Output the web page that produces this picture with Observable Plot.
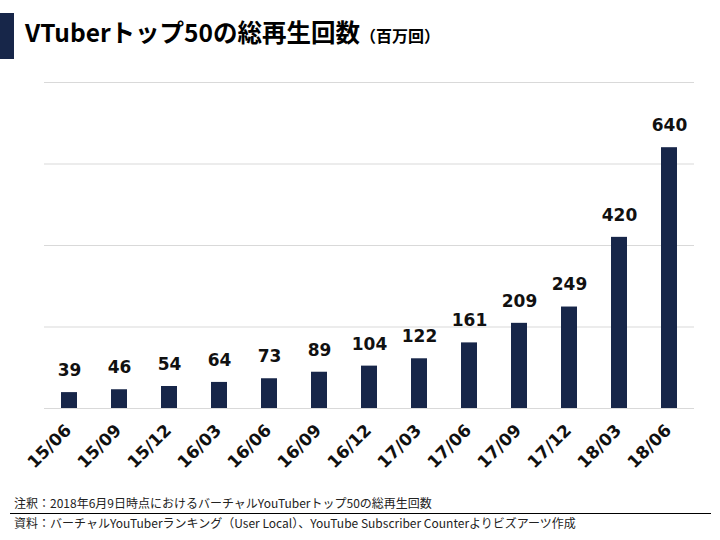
<!DOCTYPE html>
<html><head><meta charset="utf-8">
<script src="https://cdn.jsdelivr.net/npm/d3@7"></script>
<script src="https://cdn.jsdelivr.net/npm/@observablehq/plot@0.6"></script>
<style>
html,body{margin:0;padding:0;background:#fff;}
#wrap{position:relative;width:720px;height:540px;overflow:hidden;font-family:"Noto Sans CJK JP","Noto Sans",sans-serif;}
#bar{position:absolute;left:0;top:13px;width:14px;height:46px;background:#172649;}
#title{position:absolute;left:25px;top:17px;line-height:30px;font-size:24.5px;font-weight:bold;color:#000;white-space:nowrap;}
#title span{font-size:16px;}
#chart{position:absolute;left:0;top:70px;}
.foot{position:absolute;left:14px;font-size:12px;line-height:16px;color:#222;white-space:nowrap;}
#rule{position:absolute;left:10px;top:513px;width:701px;height:1px;background:#000;}
</style></head>
<body><div id="wrap">
<div id="bar"></div>
<div id="title">VTuberトップ50の総再生回数<span>（百万回）</span></div>
<div id="chart"></div>
<div class="foot" id="note" style="top:495px">注釈：2018年6月9日時点におけるバーチャルYouTuberトップ50の総再生回数</div>
<div id="rule"></div>
<div class="foot" id="src" style="top:515px">資料：バーチャルYouTuberランキング（User Local）、YouTube Subscriber Counterよりビズアーツ作成</div>
</div>
<script>
const periods = ["15/06","15/09","15/12","16/03","16/06","16/09","16/12","17/03","17/06","17/09","17/12","18/03","18/06"];
const views = [39,46,54,64,73,89,104,122,161,209,249,420,640];
const gridValues = [0,200,400,600,800];

const data = periods.map((p,i)=>({period:p, value:views[i]}));
const navy = "#172649";
const chart = Plot.plot({
  width: 720,
  height: 415,
  marginTop: 12,
  marginBottom: 77,
  marginLeft: 44,
  marginRight: 26,
  x: {domain: periods, paddingInner: 0.68, paddingOuter: 0.34, label: null},
  y: {domain: [0, 800], axis: null},
  style: {fontFamily: "DejaVu Sans", background: "#fff"},
  marks: [
    Plot.ruleY(gridValues, {stroke: "#d9d9d9", strokeWidth: 1}),
    Plot.barY(data, {x: "period", y: "value", fill: navy}),
    Plot.text(data, {x: "period", y: "value", text: d => String(d.value), dy: -22, fontSize: 17, fontWeight: "bold", fill: "#111"}),
    Plot.axisX({tickSize: 0, tickPadding: 19, tickRotate: -45, dx: -1, fontSize: 17, fontWeight: "bold", fill: "#111", label: null})
  ]
});
document.getElementById("chart").appendChild(chart);
</script>
</body></html>
